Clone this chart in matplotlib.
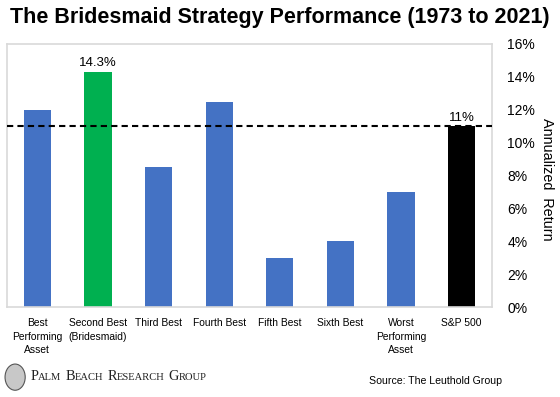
import matplotlib
matplotlib.use("Agg")
import matplotlib.pyplot as plt
from matplotlib.patches import Ellipse

# Data
categories = ["Best\nPerforming\nAsset", "Second Best\n(Bridesmaid)", "Third Best",
              "Fourth Best", "Fifth Best", "Sixth Best", "Worst\nPerforming\nAsset", "S&P 500"]
returns = [12.0, 14.3, 8.5, 12.5, 3.0, 4.0, 7.0, 11.0]
colors = ["#4472C4", "#00B050", "#4472C4", "#4472C4", "#4472C4", "#4472C4", "#4472C4", "#000000"]
sp500_line = 11.0
yticks = [0, 2, 4, 6, 8, 10, 12, 14, 16]

plt.rcParams['font.family'] = ['Liberation Sans', 'DejaVu Sans']

fig = plt.figure(figsize=(5.6, 3.97), dpi=100)
ax = fig.add_axes([0.0125, 0.2267, 0.8661, 0.6625])

x = list(range(len(categories)))
ax.bar(x, returns, width=0.45, color=colors, zorder=2)
ax.axhline(sp500_line, color="black", linestyle=(0, (3, 2)), linewidth=1.5, zorder=3)

ax.set_xlim(-0.5, len(categories) - 0.5)
ax.set_ylim(0, 16)
ax.set_xticks(x)
ax.set_xticklabels(categories, fontsize=7.4, linespacing=1.45)
ax.set_yticks(yticks)
ax.set_yticklabels([f"{v}%" for v in yticks], fontsize=10)
ax.yaxis.tick_right()
ax.tick_params(axis="both", length=0)
ax.tick_params(axis="y", pad=11)
ax.tick_params(axis="x", pad=8)

for s in ax.spines.values():
    s.set_color("#d9d9d9")
    s.set_linewidth(1.2)

# value labels
ax.text(1, returns[1] + 0.15, "14.3%", ha="center", va="bottom", fontsize=9.5)
ax.text(7, returns[7] + 0.15, "11%", ha="center", va="bottom", fontsize=9.5)

# axis title on the right, reading top to bottom
fig.text(0.977, 0.549, "Annualized  Return", rotation=-90, fontsize=10.4,
         ha="center", va="center")

fig.text(0.018, 0.955, "The Bridesmaid Strategy Performance (1973 to 2021)",
         fontsize=15.5, fontweight="bold", va="center", ha="left")

fig.text(0.897, 0.04, "Source: The Leuthold Group", fontsize=7.6, ha="right", va="center")

# logo: emblem + small caps wordmark
emblem = Ellipse((0.027, 0.05), 0.036, 0.066, transform=fig.transFigure, facecolor="#c8c8c8",
                 edgecolor="#555555", linewidth=0.8)
fig.patches.append(emblem)

fig.canvas.draw()
renderer = fig.canvas.get_renderer()
xpos = 0.054
for word in ["Palm", "Beach", "Research", "Group"]:
    t1 = fig.text(xpos, 0.043, word[0].upper(), fontsize=10.3, family="Liberation Serif",
                  va="baseline", ha="left", color="#222222")
    bb = t1.get_window_extent(renderer)
    xpos = bb.x1 / fig.bbox.width
    t2 = fig.text(xpos, 0.043, word[1:].upper(), fontsize=7.6, family="Liberation Serif",
                  va="baseline", ha="left", color="#222222")
    bb = t2.get_window_extent(renderer)
    xpos = bb.x1 / fig.bbox.width + 0.007

fig.savefig("out.png", dpi=100)
